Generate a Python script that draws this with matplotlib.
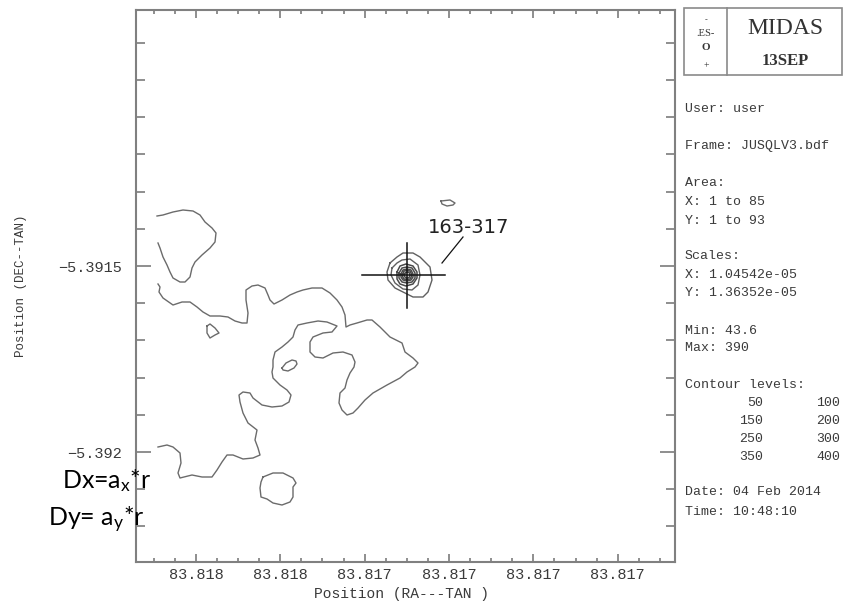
import matplotlib
matplotlib.use("Agg")
import matplotlib.pyplot as plt
import numpy as np
from matplotlib.ticker import FixedLocator, FixedFormatter, MultipleLocator
from matplotlib.patches import Rectangle
from matplotlib.lines import Line2D

plt.rcParams['mathtext.fontset'] = 'custom'
plt.rcParams['mathtext.rm'] = 'Lato'
plt.rcParams['mathtext.it'] = 'Lato:italic'

MONO = ['Liberation Mono', 'DejaVu Sans Mono']

# ---------------------------------------------------------------- world frame
RA_EDGES = (83.8181711, 83.8175321)      # RA at left / right edge (deg)
DEC_EDGES = (-5.3922957, -5.3908118)     # Dec at bottom / top edge (deg)
GRID_SHAPE = (539, 552)                  # resampled map cells (x, y)

RA_MAJOR = [83.8181, 83.8180, 83.8179, 83.8178, 83.8177, 83.8176]
RA_LABELS = ['83.818', '83.818', '83.817', '83.817', '83.817', '83.817']
DEC_MAJOR = [-5.3915, -5.3920]
DEC_LABELS = ['\u22125.3915', '\u22125.392']

# ------------------------------------------------ contour traces (grid cells)
CLOUD_NORTH = [(21, 346), (27, 347), (37, 350), (47, 352), (57, 351), (64, 347),
               (69, 340), (76, 334), (80, 329), (79, 320), (74, 314), (66, 307),
               (59, 300), (56, 294), (54, 285), (49, 280), (44, 280), (37, 284),
               (34, 290), (31, 297), (27, 305), (24, 314), (22, 319)]

CLOUD_MAIN = [(22, 278), (24, 275), (23, 270), (27, 264), (37, 257), (46, 260),
              (54, 260), (61, 255), (67, 250), (74, 246), (84, 246), (92, 245),
              (99, 241), (106, 239), (111, 239), (112, 249), (110, 262), (110, 272),
              (116, 276), (122, 277), (129, 274), (132, 267), (134, 262), (138, 258),
              (146, 262), (154, 267), (161, 270), (167, 272), (176, 274), (186, 274),
              (194, 269), (201, 262), (206, 255), (209, 247), (210, 235), (214, 237),
              (221, 239), (231, 242), (236, 242), (244, 235), (254, 225), (266, 219),
              (269, 210), (277, 204), (282, 199), (279, 195), (271, 190), (264, 184),
              (251, 177), (237, 169), (229, 162), (222, 154), (217, 149), (211, 147),
              (206, 152), (203, 159), (204, 169), (209, 174), (211, 182), (214, 189),
              (218, 195), (219, 200), (216, 207), (207, 210), (197, 209), (187, 204),
              (179, 205), (174, 210), (174, 220), (177, 225), (187, 229), (196, 230),
              (201, 236), (191, 240), (182, 241), (171, 239), (162, 237), (159, 232),
              (157, 225), (152, 220), (146, 215), (139, 210), (137, 202), (137, 195),
              (136, 190), (137, 184), (144, 177), (151, 172), (155, 167), (153, 160),
              (146, 156), (136, 155), (126, 157), (117, 164), (114, 169), (107, 170),
              (103, 167), (104, 160), (107, 149), (112, 139), (121, 132), (119, 122),
              (122, 114), (124, 107), (117, 104), (107, 103), (97, 107), (91, 107),
              (86, 100), (81, 92), (76, 85), (66, 85), (56, 87), (44, 84), (42, 89),
              (45, 99), (44, 109), (37, 115), (31, 117), (22, 115)]

KNOT_WEST = [(71, 236), (74, 238), (79, 234), (83, 229), (79, 227), (74, 224), (71, 229)]
KNOT_CENTRE = [(146, 194), (150, 199), (156, 202), (160, 201), (161, 198), (158, 194),
               (152, 191), (147, 192)]
KNOT_SOUTH = [(127, 85), (137, 89), (147, 89), (157, 84), (160, 79), (157, 75), (157, 65),
              (154, 60), (146, 57), (137, 59), (131, 63), (125, 65), (124, 74), (125, 80)]
KNOT_NORTH = [(305, 361), (314, 362), (319, 359), (317, 357), (311, 356), (306, 358)]

SOURCE_RINGS = [
    [(254, 299), (261, 305), (267, 309), (277, 309), (284, 305), (289, 300), (294, 295),
     (296, 282), (292, 270), (287, 265), (277, 265), (267, 270), (259, 274), (252, 282),
     (251, 290)],
    [(256, 294), (261, 299), (266, 302), (274, 303), (282, 297), (284, 287), (282, 277),
     (276, 272), (267, 273), (259, 279), (255, 287)],
    [(261, 290), (264, 296), (270, 298), (277, 296), (281, 290), (281, 284), (277, 278),
     (270, 276), (264, 278), (261, 283)],
    [(263, 289), (266, 294), (271, 295), (276, 294), (279, 289), (279, 284), (276, 280),
     (271, 279), (266, 280), (263, 284)],
    [(265, 288), (267, 292), (271, 293), (275, 292), (277, 288), (277, 285), (275, 282),
     (271, 281), (267, 282), (265, 285)],
    [(267, 288), (268, 291), (271, 291.5), (274, 291), (275.5, 288), (275.5, 285.5),
     (274, 283), (271, 282.5), (268, 283), (266.5, 285.5)],
    [(268.5, 287.5), (269.5, 289.5), (272, 290), (273.5, 289), (274, 287), (273.5, 285),
     (272, 284), (270, 284), (268.5, 285.5)],
]

SOURCE_NAME = '163-317'
SOURCE_POS = (271, 287)
CROSS_ARMS = (45, 38, 33, 32)            # left, right, down, up (cells)
LEADER = [(306, 299), (327, 325)]
LABEL_POS = (292, 329)


def to_world(points, closed=False):
    a = np.asarray(points, dtype=float)
    if closed:
        a = np.vstack([a, a[:1]])
    ra = RA_EDGES[0] + a[:, 0] / GRID_SHAPE[0] * (RA_EDGES[1] - RA_EDGES[0])
    dec = DEC_EDGES[0] + a[:, 1] / GRID_SHAPE[1] * (DEC_EDGES[1] - DEC_EDGES[0])
    return ra, dec


W, H = 845, 603
fig = plt.figure(figsize=(W / 100, H / 100), dpi=100)
fig.patch.set_facecolor('white')
ax = fig.add_axes([136 / W, 1 - 562 / H, 539 / W, 552 / H])
ax.set_xlim(*RA_EDGES)
ax.set_ylim(*DEC_EDGES)

LINE = '#6b6b6b'
for trace in (CLOUD_NORTH, CLOUD_MAIN):
    ax.plot(*to_world(trace), color=LINE, lw=1.0)
for loop in (KNOT_WEST, KNOT_CENTRE, KNOT_SOUTH, KNOT_NORTH):
    ax.plot(*to_world(loop, closed=True), color=LINE, lw=1.0)
for i, ring in enumerate(SOURCE_RINGS):
    ax.plot(*to_world(ring, closed=True), color='#4a4a4a' if i > 1 else '#606060',
            lw=1.1 if i > 1 else 1.0)

# cross-hair on the source
sx, sy = SOURCE_POS
l, r, d, u = CROSS_ARMS
ax.plot(*to_world([(sx - l, sy), (sx + r, sy)]), color='#111111', lw=1.1)
ax.plot(*to_world([(sx, sy - d), (sx, sy + u)]), color='#111111', lw=1.1)
ax.plot(*to_world(LEADER), color='#111111', lw=0.9)
lx, ly = to_world([LABEL_POS])
ax.text(lx[0], ly[0], SOURCE_NAME, family='DejaVu Sans', fontsize=14,
        color='#222222', ha='left', va='baseline')

# axes frame and ticks
for s in ax.spines.values():
    s.set_color('#808080')
    s.set_linewidth(1.5)

ax.xaxis.set_major_locator(FixedLocator(RA_MAJOR))
ax.xaxis.set_major_formatter(FixedFormatter(RA_LABELS))
ax.xaxis.set_minor_locator(MultipleLocator(0.000025))
ax.yaxis.set_major_locator(FixedLocator(DEC_MAJOR))
ax.yaxis.set_major_formatter(FixedFormatter(DEC_LABELS))
ax.yaxis.set_minor_locator(MultipleLocator(0.0001))

ax.tick_params(axis='x', which='both', direction='in', top=True, bottom=True,
               color='#707070', width=1.1, labelcolor='#3a3a3a', pad=4)
ax.tick_params(axis='x', which='major', length=5.5)
ax.tick_params(axis='x', which='minor', length=3.2)
ax.tick_params(axis='y', which='both', direction='in', left=True, right=True,
               color='#707070', width=1.1, labelcolor='#3a3a3a', pad=10)
ax.tick_params(axis='y', which='major', length=10.5)
ax.tick_params(axis='y', which='minor', length=6.5)
for lab in ax.get_xticklabels() + ax.get_yticklabels():
    lab.set_family(MONO)
    lab.set_fontsize(11)

ax.set_xlabel('Position (RA---TAN )', family=MONO, fontsize=10.5, color='#3a3a3a',
              va='center')
ax.xaxis.set_label_coords(0.4935, -0.058)
ax.set_ylabel('Position (DEC--TAN)', family=MONO, fontsize=9, color='#3a3a3a',
              va='center')
ax.yaxis.set_label_coords(-0.213, 0.5)

# annotation in the lower-left corner
fig.text(62 / W, 1 - 488 / H, r'Dx=a$_{\mathrm{x}}$*r', family='Lato', fontsize=18,
         color='black', ha='left', va='baseline', zorder=5)
fig.text(48 / W, 1 - 526 / H, r'Dy= a$_{\mathrm{y}}$*r', family='Lato', fontsize=18,
         color='black', ha='left', va='baseline', zorder=5)

# side panel: logo box
BOX = '#8a8a8a'
fig.add_artist(Rectangle((684 / W, 1 - 75 / H), (842 - 684) / W, 67 / H,
                         transform=fig.transFigure, fill=False, ec=BOX, lw=1.2))
fig.add_artist(Line2D([727 / W, 727 / W], [1 - 75 / H, 1 - 8 / H],
                      transform=fig.transFigure, color=BOX, lw=1.2))
fig.text(785 / W, 1 - 29 / H, 'MIDAS', family='Liberation Serif', fontsize=17,
         color='#333333', ha='center', va='center')
fig.text(785 / W, 1 - 61 / H, '13SEP', family='Liberation Serif', fontsize=12,
         weight='bold', color='#333333', ha='center', va='center')
for txt, y, size in (('-', 20, 6), ('.ES-', 33, 7.5), ('O', 48, 8), ('+', 66, 7)):
    fig.text(706 / W, 1 - y / H, txt, family='Liberation Serif', fontsize=size,
             weight='bold' if txt == 'O' else 'normal', color='#333333',
             ha='center', va='center')

# side panel: frame information
PANEL_LINES = [('User: user', 109), ('Frame: JUSQLV3.bdf', 146), ('Area:', 183),
               ('X: 1 to 85', 202), ('Y: 1 to 93', 221), ('Scales:', 256),
               ('X: 1.04542e-05', 275), ('Y: 1.36352e-05', 293), ('Min: 43.6', 331),
               ('Max: 390', 348), ('Contour levels:', 385),
               ('Date: 04 Feb 2014', 492), ('Time: 10:48:10', 512)]
for txt, y in PANEL_LINES:
    fig.text(685 / W, 1 - y / H, txt, family=MONO, fontsize=9.5, color='#3a3a3a',
             ha='left', va='center')

CONTOUR_LEVELS = [50, 100, 150, 200, 250, 300, 350, 400]
for i, lev in enumerate(CONTOUR_LEVELS):
    row, col = divmod(i, 2)
    x = 763 if col == 0 else 840
    fig.text(x / W, 1 - (403 + row * 18) / H, str(lev), family=MONO, fontsize=9.5,
             color='#3a3a3a', ha='right', va='center')

fig.savefig('out.png', dpi=100, facecolor='white')
